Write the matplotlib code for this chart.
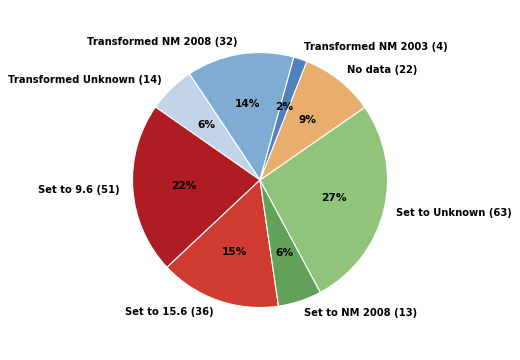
import matplotlib
matplotlib.use("Agg")
import matplotlib.pyplot as plt

labels = ["Transformed NM 2008", "Transformed Unknown", "Set to 9.6", "Set to 15.6",
          "Set to NM 2008", "Set to Unknown", "No data", "Transformed NM 2003"]
counts = [32, 14, 51, 36, 13, 63, 22, 4]
colors = ["#80acd3", "#c2d5e8", "#b01c23", "#d03b2f",
          "#62a15a", "#8fc47a", "#e9ad6c", "#4f81bd"]

fig = plt.figure(figsize=(5.2, 3.6), dpi=100)
ax = fig.add_axes([0.2548, 0.1458, 0.4904, 0.7083])

wedge_labels = ["%s (%d)" % (l, c) for l, c in zip(labels, counts)]
wedges, texts, autotexts = ax.pie(
    counts, labels=wedge_labels, colors=colors, startangle=74.6,
    autopct="%1.0f%%", pctdistance=0.6, labeldistance=1.1,
    wedgeprops={"edgecolor": "white", "linewidth": 0.8},
    textprops={"fontsize": 7.2, "fontweight": "bold"})
for t in autotexts:
    t.set_fontsize(7.7)
ax.set_xlim(-1, 1)
ax.set_ylim(-1, 1)
ax.set_aspect("equal")
ax.axis("off")

fig.savefig("out.png", dpi=100)
